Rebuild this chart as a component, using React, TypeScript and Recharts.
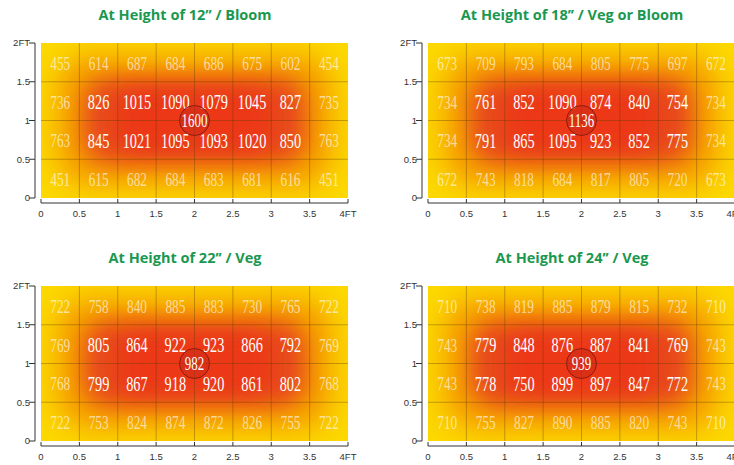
import React from 'react'
import {
  ScatterChart, Scatter, XAxis, YAxis, ReferenceArea, ReferenceLine,
} from 'recharts'

// grid values, top row first, 8 cells of 0.5ft each
const h12Rows = [
  [455, 614, 687, 684, 686, 675, 602, 454],
  [736, 826, 1015, 1090, 1079, 1045, 827, 735],
  [763, 845, 1021, 1095, 1093, 1020, 850, 763],
  [451, 615, 682, 684, 683, 681, 616, 451],
]
const h18Rows = [
  [673, 709, 793, 684, 805, 775, 697, 672],
  [734, 761, 852, 1090, 874, 840, 754, 734],
  [734, 791, 865, 1095, 923, 852, 775, 734],
  [672, 743, 818, 684, 817, 805, 720, 673],
]
const h22Rows = [
  [722, 758, 840, 885, 883, 730, 765, 722],
  [769, 805, 864, 922, 923, 866, 792, 769],
  [768, 799, 867, 918, 920, 861, 802, 768],
  [722, 753, 824, 874, 872, 826, 755, 722],
]
const h24Rows = [
  [710, 738, 819, 885, 879, 815, 732, 710],
  [743, 779, 848, 876, 887, 841, 769, 743],
  [743, 778, 750, 899, 897, 847, 772, 743],
  [710, 755, 827, 890, 885, 820, 743, 710],
]
const centerValues = [1600, 1136, 982, 939]
const titles = [
  'At Height of 12’’ / Bloom',
  'At Height of 18’’ / Veg or Bloom',
  'At Height of 22’’ / Veg',
  'At Height of 24’’ / Veg',
]
const xCenters = [0.25, 0.75, 1.25, 1.75, 2.25, 2.75, 3.25, 3.75]
const yCenters = [1.75, 1.25, 0.75, 0.25]
const xTicks = [0, 0.5, 1, 1.5, 2, 2.5, 3, 3.5, 4]
const yTicks = [0, 0.5, 1, 1.5, 2]
const gridX = [0.5, 1, 1.5, 2, 2.5, 3, 3.5]
const gridY = [0.5, 1, 1.5]

const axisTick = { fontSize: 9.5, fill: '#333', fontFamily: "'Liberation Sans', Arial, sans-serif" }

// yellow base + clip region for the blurred glow
function base(clipId: string) {
  return (p: any) => (
    <g>
      <defs>
        <clipPath id={clipId}>
          <rect x={p.x} y={p.y} width={p.width} height={p.height} />
        </clipPath>
      </defs>
      <rect x={p.x} y={p.y} width={p.width} height={p.height} fill="#fcd800" />
    </g>
  )
}

function blob(id: string, clipId: string, fill: string, blur: number, rx: number) {
  return (p: any) => (
    <g clipPath={`url(#${clipId})`}>
      <defs>
        <filter id={id} x="-60%" y="-60%" width="220%" height="220%">
          <feGaussianBlur stdDeviation={blur} />
        </filter>
      </defs>
      <rect x={p.x} y={p.y} width={p.width} height={p.height} rx={rx} fill={fill} filter={`url(#${id})`} />
    </g>
  )
}

const NumShape = (p: any) => {
  const { cx, cy, payload } = p
  const inner = payload.row > 0 && payload.row < 3 && payload.col > 0 && payload.col < 7
  return (
    <text
      transform={`translate(${cx},${cy + 1}) scale(0.68,1)`}
      textAnchor="middle" dominantBaseline="central"
      fontFamily="'Liberation Serif', 'Times New Roman', serif"
      fontSize={inner ? 21 : 19.5}
      fill="#fff" fillOpacity={inner ? 1 : 0.62}
    >{payload.v}</text>
  )
}

const CenterShape = (p: any) => {
  const { cx, cy, payload } = p
  return (
    <g>
      <circle cx={cx} cy={cy} r={15} fill="#c8281a" fillOpacity={0.45} stroke="#8c1c10" strokeWidth={1} />
      <text
        transform={`translate(${cx},${cy + 1}) scale(0.68,1)`}
        textAnchor="middle" dominantBaseline="central"
        fontFamily="'Liberation Serif', 'Times New Roman', serif"
        fontSize={19} fill="#fff"
      >{payload.v}</text>
    </g>
  )
}

function Panel({ idx, rows, left, top }: { idx: number; rows: number[][]; left: number; top: number }) {
  const cells = rows.flatMap((r, ri) => r.map((v, ci) => ({ x: xCenters[ci], y: yCenters[ri], v, row: ri, col: ci })))
  const center = [{ x: 2, y: 1, v: centerValues[idx] }]
  const clipId = `heatclip${idx}`
  return (
    <div style={{ position: 'absolute', left, top, width: 380, height: 232 }}>
      <div style={{
        position: 'absolute', left: 0, top: 5, width: 370, textAlign: 'center',
        fontFamily: "'Open Sans', sans-serif", fontWeight: 700, fontSize: 14.5, color: '#1a9850',
      }}>{titles[idx]}</div>
      <ScatterChart width={380} height={232} margin={{ top: 43, right: 32, bottom: 9, left: 11 }}>
        <XAxis
          type="number" dataKey="x" domain={[0, 4]} ticks={xTicks} interval={0}
          tickFormatter={(v: number) => (v === 4 ? '4FT' : String(v))}
          tick={axisTick} stroke="#333" tickSize={-4} tickMargin={16} height={25}
        />
        <YAxis
          type="number" dataKey="y" domain={[0, 2]} ticks={yTicks} interval={0}
          tickFormatter={(v: number) => (v === 2 ? '2FT' : String(v))}
          tick={axisTick} stroke="#333" tickSize={6} tickMargin={5} width={30}
        />
        <ReferenceArea x1={0} x2={4} y1={0} y2={2} stroke="none" shape={base(clipId)} />
        <ReferenceArea x1={0.2} x2={3.8} y1={0.15} y2={1.85} stroke="none"
          shape={blob(`o${idx}`, clipId, '#f59c00', 14, 34)} />
        <ReferenceArea x1={0.55} x2={3.45} y1={0.45} y2={1.55} stroke="none"
          shape={blob(`r${idx}`, clipId, '#e8481a', 11, 26)} />
        <ReferenceArea x1={1.0} x2={3.0} y1={0.6} y2={1.4} stroke="none"
          shape={blob(`c${idx}`, clipId, '#ec3814', 10, 20)} />
        {gridX.map(g => <ReferenceLine key={'x' + g} x={g} stroke="#5a3a00" strokeOpacity={0.35} />)}
        {gridY.map(g => <ReferenceLine key={'y' + g} y={g} stroke="#5a3a00" strokeOpacity={0.35} />)}
        <Scatter data={cells} shape={NumShape} isAnimationActive={false} />
        <Scatter data={center} shape={CenterShape} isAnimationActive={false} />
      </ScatterChart>
    </div>
  )
}

export default function App() {
  return (
    <div className="heat" style={{
      position: 'absolute', left: 0, top: 0, width: 734, height: 465,
      overflow: 'hidden', background: '#fff',
    }}>
      <style>{`
        .heat .recharts-xAxis { transform: translateY(5px); }
        .heat .recharts-yAxis { transform: translateX(-6px); }
      `}</style>
      <Panel idx={0} rows={h12Rows} left={0} top={0} />
      <Panel idx={1} rows={h18Rows} left={387} top={0} />
      <Panel idx={2} rows={h22Rows} left={0} top={243} />
      <Panel idx={3} rows={h24Rows} left={387} top={243} />
    </div>
  )
}
